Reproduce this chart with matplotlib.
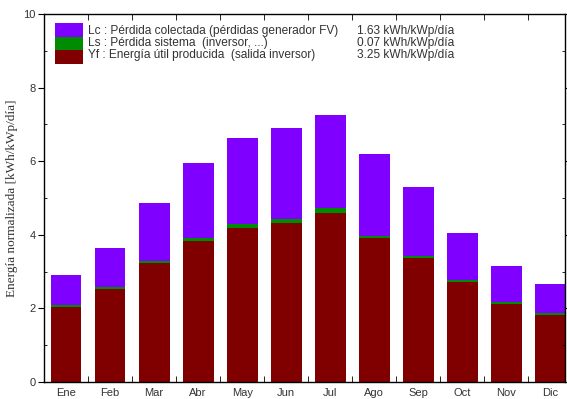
import numpy as np
import matplotlib.pyplot as plt
from matplotlib.patches import Rectangle

# Monthly normalized production (kWh/kWp/day)
months = ["Ene", "Feb", "Mar", "Abr", "May", "Jun",
          "Jul", "Ago", "Sep", "Oct", "Nov", "Dic"]
yf = [2.04, 2.53, 3.23, 3.83, 4.18, 4.32, 4.59, 3.91, 3.37, 2.72, 2.12, 1.82]
ls = [0.05, 0.05, 0.06, 0.08, 0.10, 0.12, 0.13, 0.07, 0.06, 0.06, 0.05, 0.05]
lc = [0.82, 1.06, 1.57, 2.04, 2.35, 2.46, 2.54, 2.22, 1.87, 1.27, 0.98, 0.79]

legend_labels = ["Lc : Pérdida colectada (pérdidas generador FV)",
                 "Ls : Pérdida sistema  (inversor, ...)",
                 "Yf : Energía útil producida  (salida inversor)"]
legend_values = ["1.63 kWh/kWp/día", "0.07 kWh/kWp/día", "3.25 kWh/kWp/día"]

c_lc = "#8000ff"
c_ls = "#008c00"
c_yf = "#800000"
txt = "#333333"

plt.rcParams["font.family"] = ["Liberation Sans", "DejaVu Sans"]

fig = plt.figure(figsize=(5.67, 3.99), dpi=100)
ax = fig.add_axes([0.0776, 0.0426, 0.9196, 0.9224])

x = np.arange(1, len(months) + 1)
yf_a = np.array(yf)
ls_a = np.array(ls)
lc_a = np.array(lc)
w = 0.7
ax.bar(x, yf_a, w, color=c_yf, linewidth=0)
ax.bar(x, ls_a, w, bottom=yf_a, color=c_ls, linewidth=0)
ax.bar(x, lc_a, w, bottom=yf_a + ls_a, color=c_lc, linewidth=0)

ax.set_xlim(0.5, 12.34)
ax.set_ylim(0, 10)

# month names under the bars, tick marks between them
ax.set_xticks(x)
ax.set_xticklabels(months, fontsize=8, color=txt)
ax.tick_params(axis="x", which="major", length=0, pad=4)
ax.set_xticks(x[:-1] + 0.5, minor=True)
ax.tick_params(axis="x", which="minor", direction="in", length=4,
               top=True, bottom=True)

ax.set_yticks(np.arange(0, 11, 2))
ax.set_yticklabels([str(v) for v in range(0, 11, 2)], fontsize=8, color=txt)
ax.set_yticks(np.arange(1, 10, 2), minor=True)
ax.tick_params(axis="y", which="major", direction="out", length=4, pad=2)
ax.tick_params(axis="y", which="minor", direction="in", length=2)
ax.tick_params(axis="y", which="both", right=True)

for s in ax.spines.values():
    s.set_linewidth(1.0)

ax.set_ylabel("Energía normalizada [kWh/kWp/día]", fontsize=9.5,
              family=["Liberation Serif", "DejaVu Serif"], color=txt)
ax.yaxis.set_label_coords(-0.05, 0.5)

# legend block drawn inside the axes
sw_x0, sw_x1 = 0.021, 0.075
edges = [0.976, 0.9375, 0.902, 0.864]
for col, top, bot in zip([c_lc, c_ls, c_yf], edges[:-1], edges[1:]):
    ax.add_patch(Rectangle((sw_x0, bot), sw_x1 - sw_x0, top - bot,
                           transform=ax.transAxes, color=col, lw=0))
for lab, val, yy in zip(legend_labels, legend_values, [0.954, 0.922, 0.889]):
    ax.text(0.084, yy, lab, transform=ax.transAxes, fontsize=8.6,
            color=txt, va="center")
    ax.text(0.600, yy, val, transform=ax.transAxes, fontsize=8.6,
            color=txt, va="center")

fig.savefig("out.png", dpi=100)
